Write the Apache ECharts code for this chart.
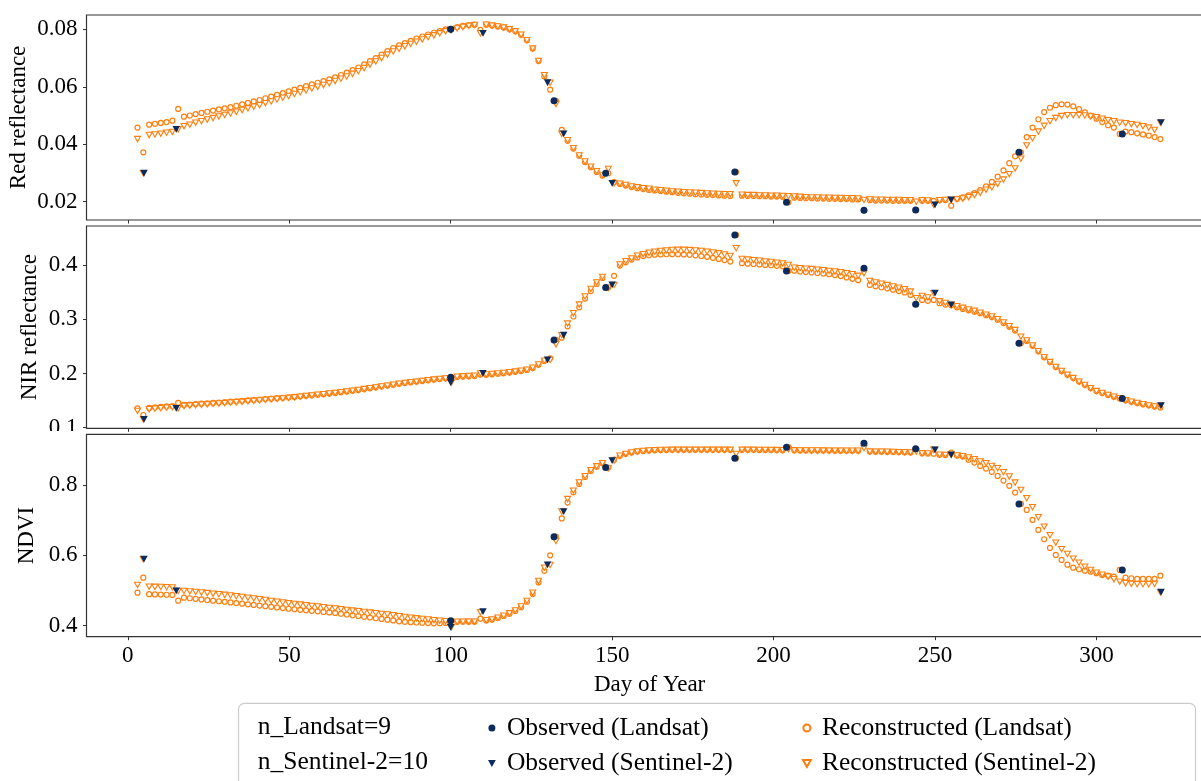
<!DOCTYPE html>
<html>
<head>
<meta charset="utf-8">
<title>Observed vs reconstructed reflectance</title>
<script src="https://cdn.jsdelivr.net/npm/echarts@6.0.0/dist/echarts.min.js"></script>
<style>
  html, body { margin: 0; padding: 0; background: #fff; }
  #chart { width: 1201px; height: 781px; }
</style>
</head>
<body>
<div id="chart"></div>
<script>
// observations
const obsLandsatDays = [100, 132, 148, 188, 204, 228, 244, 276, 308];
const obsLandsatRed = [0.0800, 0.0551, 0.0299, 0.0303, 0.0198, 0.0170, 0.0171, 0.0372, 0.0436];
const obsLandsatNir = [0.1930, 0.2618, 0.3583, 0.4555, 0.3890, 0.3940, 0.3277, 0.2557, 0.1540];
const obsLandsatNdvi = [0.4140, 0.6532, 0.8497, 0.8762, 0.9075, 0.9190, 0.9027, 0.7462, 0.5585];

const obsSentinelDays = [5, 15, 100, 110, 130, 135, 150, 250, 255, 320];
const obsSentinelRed = [0.0299, 0.0452, 0.0797, 0.0786, 0.0614, 0.0436, 0.0264, 0.0189, 0.0206, 0.0475];
const obsSentinelNir = [0.1155, 0.1358, 0.1830, 0.2000, 0.2249, 0.2705, 0.3633, 0.3480, 0.3264, 0.1406];
const obsSentinelNdvi = [0.5890, 0.4987, 0.3954, 0.4398, 0.5727, 0.7245, 0.8695, 0.9000, 0.8856, 0.4950];

// reconstruction dates
const reconDays = [
  3, 4.8, 6.6, 8.4, 10.2, 12, 13.8, 15.6, 17.4, 19.2,
  21, 22.8, 24.6, 26.4, 28.2, 30, 31.8, 33.6, 35.4, 37.2,
  39, 40.8, 42.6, 44.4, 46.2, 48, 49.8, 51.6, 53.4, 55.2,
  57, 58.8, 60.6, 62.4, 64.2, 66, 67.8, 69.6, 71.4, 73.2,
  75, 76.8, 78.6, 80.4, 82.2, 84, 85.8, 87.6, 89.4, 91.2,
  93, 94.8, 96.6, 98.4, 100.2, 102, 103.8, 105.6, 107.4, 109.2,
  111, 112.8, 114.6, 116.4, 118.2, 120, 121.8, 123.6, 125.4, 127.2,
  129, 130.8, 132.6, 134.4, 136.2, 138, 139.8, 141.6, 143.4, 145.2,
  147, 148.8, 150.6, 152.4, 154.2, 156, 157.8, 159.6, 161.4, 163.2,
  165, 166.8, 168.6, 170.4, 172.2, 174, 175.8, 177.6, 179.4, 181.2,
  183, 184.8, 186.6, 188.4, 190.2, 192, 193.8, 195.6, 197.4, 199.2,
  201, 202.8, 204.6, 206.4, 208.2, 210, 211.8, 213.6, 215.4, 217.2,
  219, 220.8, 222.6, 224.4, 226.2, 228, 229.8, 231.6, 233.4, 235.2,
  237, 238.8, 240.6, 242.4, 244.2, 246, 247.8, 249.6, 251.4, 253.2,
  255, 256.8, 258.6, 260.4, 262.2, 264, 265.8, 267.6, 269.4, 271.2,
  273, 274.8, 276.6, 278.4, 280.2, 282, 283.8, 285.6, 287.4, 289.2,
  291, 292.8, 294.6, 296.4, 298.2, 300, 301.8, 303.6, 305.4, 307.2,
  309, 310.8, 312.6, 314.4, 316.2, 318, 319.8
];

const reconLandsatRed = [
  0.0458, 0.0372, 0.0468, 0.0471, 0.0474, 0.0477, 0.0482, 0.0523, 0.0496, 0.0500,
  0.0505, 0.0509, 0.0513, 0.0517, 0.0521, 0.0525, 0.0529, 0.0534, 0.0539, 0.0544,
  0.0549, 0.0554, 0.0560, 0.0566, 0.0572, 0.0578, 0.0584, 0.0590, 0.0596, 0.0602,
  0.0608, 0.0614, 0.0620, 0.0626, 0.0633, 0.0641, 0.0649, 0.0658, 0.0667, 0.0678,
  0.0689, 0.0700, 0.0712, 0.0724, 0.0735, 0.0744, 0.0752, 0.0760, 0.0768, 0.0775,
  0.0782, 0.0788, 0.0794, 0.0800, 0.0802, 0.0808, 0.0812, 0.0815, 0.0816, 0.0798,
  0.0816, 0.0813, 0.0810, 0.0806, 0.0800, 0.0793, 0.0781, 0.0762, 0.0733, 0.0690,
  0.0636, 0.0590, 0.0551, 0.0450, 0.0412, 0.0385, 0.0360, 0.0338, 0.0320, 0.0303,
  0.0291, 0.0299, 0.0268, 0.0262, 0.0256, 0.0251, 0.0247, 0.0244, 0.0241, 0.0239,
  0.0237, 0.0235, 0.0233, 0.0231, 0.0229, 0.0228, 0.0226, 0.0225, 0.0224, 0.0223,
  0.0222, 0.0221, 0.0220, 0.0303, 0.0221, 0.0220, 0.0220, 0.0219, 0.0219, 0.0218,
  0.0218, 0.0217, 0.0198, 0.0214, 0.0213, 0.0212, 0.0212, 0.0211, 0.0211, 0.0210,
  0.0210, 0.0209, 0.0209, 0.0208, 0.0208, 0.0170, 0.0205, 0.0204, 0.0204, 0.0204,
  0.0203, 0.0203, 0.0203, 0.0203, 0.0171, 0.0203, 0.0203, 0.0203, 0.0205, 0.0206,
  0.0186, 0.0210, 0.0215, 0.0222, 0.0230, 0.0240, 0.0253, 0.0269, 0.0287, 0.0309,
  0.0334, 0.0358, 0.0372, 0.0425, 0.0458, 0.0487, 0.0512, 0.0527, 0.0536, 0.0539,
  0.0538, 0.0532, 0.0522, 0.0511, 0.0500, 0.0489, 0.0477, 0.0466, 0.0458, 0.0436,
  0.0444, 0.0442, 0.0438, 0.0434, 0.0430, 0.0425, 0.0418
];
const reconSentinelRed = [
  0.0418, 0.0299, 0.0432, 0.0434, 0.0437, 0.0440, 0.0443, 0.0452, 0.0463, 0.0468,
  0.0475, 0.0480, 0.0486, 0.0491, 0.0497, 0.0502, 0.0507, 0.0513, 0.0519, 0.0525,
  0.0531, 0.0536, 0.0543, 0.0549, 0.0556, 0.0562, 0.0568, 0.0575, 0.0581, 0.0587,
  0.0594, 0.0600, 0.0606, 0.0612, 0.0620, 0.0628, 0.0636, 0.0645, 0.0654, 0.0665,
  0.0677, 0.0688, 0.0700, 0.0712, 0.0723, 0.0732, 0.0741, 0.0749, 0.0757, 0.0765,
  0.0773, 0.0779, 0.0786, 0.0793, 0.0797, 0.0803, 0.0808, 0.0812, 0.0815, 0.0786,
  0.0816, 0.0813, 0.0810, 0.0806, 0.0800, 0.0793, 0.0781, 0.0762, 0.0733, 0.0690,
  0.0640, 0.0614, 0.0540, 0.0436, 0.0414, 0.0386, 0.0361, 0.0340, 0.0322, 0.0306,
  0.0293, 0.0314, 0.0264, 0.0263, 0.0258, 0.0253, 0.0250, 0.0247, 0.0245, 0.0242,
  0.0240, 0.0238, 0.0236, 0.0235, 0.0233, 0.0232, 0.0231, 0.0230, 0.0229, 0.0228,
  0.0227, 0.0226, 0.0226, 0.0264, 0.0224, 0.0223, 0.0223, 0.0222, 0.0222, 0.0221,
  0.0221, 0.0220, 0.0219, 0.0218, 0.0217, 0.0216, 0.0215, 0.0215, 0.0214, 0.0214,
  0.0213, 0.0213, 0.0212, 0.0212, 0.0211, 0.0206, 0.0208, 0.0207, 0.0207, 0.0206,
  0.0206, 0.0206, 0.0205, 0.0205, 0.0200, 0.0205, 0.0204, 0.0189, 0.0205, 0.0206,
  0.0206, 0.0208, 0.0211, 0.0216, 0.0223, 0.0231, 0.0242, 0.0250, 0.0262, 0.0277,
  0.0296, 0.0316, 0.0350, 0.0396, 0.0421, 0.0444, 0.0464, 0.0480, 0.0491, 0.0498,
  0.0501, 0.0501, 0.0501, 0.0500, 0.0497, 0.0494, 0.0489, 0.0484, 0.0480, 0.0475,
  0.0473, 0.0470, 0.0467, 0.0463, 0.0458, 0.0450, 0.0475
];

const reconLandsatNir = [
  0.1358, 0.1234, 0.1365, 0.1375, 0.1385, 0.1395, 0.1400, 0.1456, 0.1420, 0.1428,
  0.1436, 0.1443, 0.1450, 0.1457, 0.1465, 0.1472, 0.1480, 0.1488, 0.1496, 0.1504,
  0.1512, 0.1520, 0.1528, 0.1536, 0.1544, 0.1552, 0.1560, 0.1568, 0.1578, 0.1588,
  0.1598, 0.1608, 0.1618, 0.1630, 0.1642, 0.1655, 0.1668, 0.1682, 0.1696, 0.1712,
  0.1728, 0.1744, 0.1760, 0.1776, 0.1792, 0.1810, 0.1825, 0.1838, 0.1850, 0.1862,
  0.1875, 0.1887, 0.1898, 0.1910, 0.1930, 0.1935, 0.1942, 0.1948, 0.1954, 0.1980,
  0.1975, 0.1985, 0.1995, 0.2005, 0.2017, 0.2030, 0.2045, 0.2065, 0.2100, 0.2160,
  0.2230, 0.2280, 0.2618, 0.2660, 0.2870, 0.3050, 0.3220, 0.3380, 0.3520, 0.3650,
  0.3760, 0.3583, 0.3800, 0.3990, 0.4050, 0.4100, 0.4140, 0.4165, 0.4180, 0.4190,
  0.4195, 0.4198, 0.4200, 0.4198, 0.4195, 0.4188, 0.4178, 0.4165, 0.4150, 0.4133,
  0.4112, 0.4090, 0.4063, 0.4555, 0.4033, 0.4025, 0.4018, 0.4010, 0.4002, 0.3995,
  0.3985, 0.3975, 0.3890, 0.3895, 0.3880, 0.3870, 0.3862, 0.3852, 0.3842, 0.3830,
  0.3815, 0.3795, 0.3770, 0.3745, 0.3720, 0.3940, 0.3633, 0.3610, 0.3590, 0.3570,
  0.3545, 0.3520, 0.3495, 0.3448, 0.3277, 0.3356, 0.3340, 0.3356, 0.3295, 0.3270,
  0.3260, 0.3220, 0.3190, 0.3165, 0.3140, 0.3110, 0.3075, 0.3040, 0.2990, 0.2930,
  0.2860, 0.2790, 0.2557, 0.2600, 0.2510, 0.2410, 0.2300, 0.2210, 0.2120, 0.2045,
  0.1975, 0.1915, 0.1850, 0.1790, 0.1730, 0.1675, 0.1640, 0.1605, 0.1570, 0.1540,
  0.1505, 0.1478, 0.1455, 0.1432, 0.1412, 0.1390, 0.1372
];
const reconSentinelNir = [
  0.1310, 0.1155, 0.1340, 0.1350, 0.1360, 0.1370, 0.1377, 0.1358, 0.1400, 0.1408,
  0.1416, 0.1423, 0.1431, 0.1438, 0.1446, 0.1453, 0.1461, 0.1469, 0.1477, 0.1486,
  0.1494, 0.1503, 0.1512, 0.1521, 0.1530, 0.1540, 0.1550, 0.1560, 0.1572, 0.1584,
  0.1596, 0.1608, 0.1618, 0.1630, 0.1642, 0.1655, 0.1668, 0.1682, 0.1696, 0.1712,
  0.1728, 0.1744, 0.1760, 0.1776, 0.1792, 0.1810, 0.1825, 0.1838, 0.1850, 0.1862,
  0.1875, 0.1887, 0.1898, 0.1910, 0.1830, 0.1940, 0.1947, 0.1953, 0.1959, 0.2000,
  0.1980, 0.1990, 0.2000, 0.2010, 0.2022, 0.2035, 0.2050, 0.2070, 0.2105, 0.2165,
  0.2235, 0.2249, 0.2538, 0.2705, 0.2920, 0.3110, 0.3270, 0.3420, 0.3560, 0.3680,
  0.3780, 0.3580, 0.3633, 0.4010, 0.4070, 0.4120, 0.4170, 0.4200, 0.4225, 0.4245,
  0.4260, 0.4270, 0.4278, 0.4280, 0.4280, 0.4275, 0.4268, 0.4258, 0.4245, 0.4230,
  0.4215, 0.4195, 0.4168, 0.4310, 0.4112, 0.4100, 0.4090, 0.4078, 0.4065, 0.4055,
  0.4042, 0.4030, 0.4000, 0.3950, 0.3940, 0.3932, 0.3925, 0.3915, 0.3905, 0.3892,
  0.3880, 0.3868, 0.3850, 0.3830, 0.3800, 0.3850, 0.3707, 0.3680, 0.3655, 0.3630,
  0.3605, 0.3580, 0.3555, 0.3510, 0.3387, 0.3430, 0.3400, 0.3480, 0.3330, 0.3300,
  0.3264, 0.3240, 0.3210, 0.3180, 0.3155, 0.3120, 0.3085, 0.3050, 0.3000, 0.2940,
  0.2870, 0.2800, 0.2679, 0.2610, 0.2515, 0.2410, 0.2300, 0.2210, 0.2120, 0.2045,
  0.1975, 0.1915, 0.1850, 0.1790, 0.1730, 0.1675, 0.1640, 0.1605, 0.1570, 0.1545,
  0.1505, 0.1478, 0.1455, 0.1432, 0.1412, 0.1390, 0.1406
];

const reconLandsatNdvi = [
  0.4940, 0.5366, 0.4895, 0.4890, 0.4885, 0.4880, 0.4875, 0.4712, 0.4797, 0.4780,
  0.4763, 0.4746, 0.4729, 0.4712, 0.4695, 0.4678, 0.4661, 0.4643, 0.4625, 0.4608,
  0.4590, 0.4572, 0.4554, 0.4536, 0.4518, 0.4500, 0.4482, 0.4467, 0.4452, 0.4437,
  0.4422, 0.4407, 0.4392, 0.4377, 0.4362, 0.4340, 0.4318, 0.4296, 0.4275, 0.4254,
  0.4233, 0.4212, 0.4192, 0.4172, 0.4150, 0.4125, 0.4110, 0.4100, 0.4090, 0.4082,
  0.4075, 0.4068, 0.4070, 0.4080, 0.4140, 0.4110, 0.4112, 0.4114, 0.4114, 0.4200,
  0.4150, 0.4175, 0.4220, 0.4275, 0.4340, 0.4420, 0.4525, 0.4680, 0.4900, 0.5230,
  0.5560, 0.6000, 0.6532, 0.7050, 0.7500, 0.7790, 0.8030, 0.8230, 0.8400, 0.8520,
  0.8620, 0.8497, 0.8720, 0.8828, 0.8885, 0.8923, 0.8950, 0.8968, 0.8979, 0.8988,
  0.8994, 0.8998, 0.9000, 0.9000, 0.9000, 0.9000, 0.9000, 0.9000, 0.9000, 0.9000,
  0.9000, 0.9000, 0.9000, 0.8762, 0.9000, 0.9000, 0.9000, 0.8998, 0.8997, 0.8995,
  0.8993, 0.8990, 0.9075, 0.8985, 0.8983, 0.8982, 0.8980, 0.8979, 0.8978, 0.8977,
  0.8976, 0.8975, 0.8974, 0.8973, 0.8972, 0.9190, 0.8950, 0.8948, 0.8946, 0.8944,
  0.8940, 0.8935, 0.8930, 0.8925, 0.9027, 0.8900, 0.8895, 0.8890, 0.8860, 0.8856,
  0.8920, 0.8837, 0.8810, 0.8714, 0.8638, 0.8543, 0.8467, 0.8373, 0.8259, 0.8126,
  0.7975, 0.7784, 0.7462, 0.7292, 0.7007, 0.6723, 0.6458, 0.6210, 0.6011, 0.5869,
  0.5735, 0.5650, 0.5604, 0.5565, 0.5537, 0.5491, 0.5443, 0.5423, 0.5394, 0.5585,
  0.5366, 0.5348, 0.5329, 0.5329, 0.5329, 0.5329, 0.5423
];
const reconSentinelNdvi = [
  0.5158, 0.5890, 0.5110, 0.5105, 0.5100, 0.5095, 0.5090, 0.4987, 0.4987, 0.4975,
  0.4959, 0.4943, 0.4927, 0.4911, 0.4894, 0.4877, 0.4860, 0.4839, 0.4817, 0.4796,
  0.4774, 0.4752, 0.4729, 0.4706, 0.4683, 0.4660, 0.4637, 0.4619, 0.4600, 0.4582,
  0.4564, 0.4545, 0.4526, 0.4507, 0.4490, 0.4470, 0.4450, 0.4430, 0.4411, 0.4392,
  0.4373, 0.4354, 0.4336, 0.4318, 0.4298, 0.4270, 0.4250, 0.4230, 0.4210, 0.4192,
  0.4175, 0.4158, 0.4140, 0.4125, 0.3954, 0.4112, 0.4114, 0.4116, 0.4116, 0.4380,
  0.4155, 0.4180, 0.4228, 0.4285, 0.4352, 0.4435, 0.4545, 0.4705, 0.4935, 0.5270,
  0.5650, 0.5727, 0.6410, 0.7245, 0.7600, 0.7840, 0.8070, 0.8250, 0.8420, 0.8530,
  0.8620, 0.8470, 0.8695, 0.8830, 0.8885, 0.8923, 0.8950, 0.8968, 0.8979, 0.8988,
  0.8994, 0.8998, 0.9000, 0.9000, 0.9000, 0.9000, 0.9000, 0.9000, 0.9000, 0.9000,
  0.9000, 0.9000, 0.9000, 0.8885, 0.9000, 0.9000, 0.9000, 0.8998, 0.8997, 0.8995,
  0.8993, 0.8990, 0.9020, 0.8985, 0.8983, 0.8982, 0.8980, 0.8979, 0.8978, 0.8977,
  0.8976, 0.8975, 0.8974, 0.8973, 0.8972, 0.9047, 0.8950, 0.8948, 0.8946, 0.8944,
  0.8940, 0.8935, 0.8930, 0.8925, 0.8950, 0.8900, 0.8895, 0.9000, 0.8860, 0.8856,
  0.8856, 0.8840, 0.8820, 0.8780, 0.8734, 0.8667, 0.8620, 0.8543, 0.8478, 0.8364,
  0.8240, 0.8069, 0.7860, 0.7624, 0.7368, 0.7084, 0.6817, 0.6572, 0.6361, 0.6174,
  0.6040, 0.5906, 0.5792, 0.5679, 0.5585, 0.5508, 0.5451, 0.5394, 0.5320, 0.5252,
  0.5206, 0.5186, 0.5180, 0.5180, 0.5180, 0.5190, 0.4950
];

// axis ticks
const dayTicks = [0, 50, 100, 150, 200, 250, 300];
const redTicks = [0.02, 0.04, 0.06, 0.08];
const nirTicks = [0.1, 0.2, 0.3, 0.4];
const ndviTicks = [0.4, 0.6, 0.8];

const orange = "#ff7f0e";
const navy = "#0a2b5c";
const serif = '"Liberation Serif", "DejaVu Serif", serif';
const downTriangle = "path://M0,0L2,0L1,1.8Z";

const pairs = (xs, ys) => xs.map((x, i) => [x, ys[i]]);

const panels = [
  { label: "Red reflectance", recL: reconLandsatRed, recS: reconSentinelRed, obsL: obsLandsatRed, obsS: obsSentinelRed,
    ticks: redTicks, min: 0.01363, max: 0.08498, top: 15, height: 205, nameGap: 56 },
  { label: "NIR reflectance", recL: reconLandsatNir, recS: reconSentinelNir, obsL: obsLandsatNir, obsS: obsSentinelNir,
    ticks: nirTicks, min: 0.0989, max: 0.4719, top: 226, height: 202.3, nameGap: 45.5 },
  { label: "NDVI", recL: reconLandsatNdvi, recS: reconSentinelNdvi, obsL: obsLandsatNdvi, obsS: obsSentinelNdvi,
    ticks: ndviTicks, min: 0.3687, max: 0.9441, top: 434.3, height: 202.4, nameGap: 48 }
];

const series = [];
panels.forEach((p, k) => {
  series.push({
    name: "Reconstructed (Landsat)", type: "scatter", xAxisIndex: k, yAxisIndex: k, z: 2,
    symbol: "circle", symbolSize: 5,
    itemStyle: { color: "#fff", borderColor: orange, borderWidth: 1.2, opacity: 1 },
    data: pairs(reconDays, p.recL)
  });
  series.push({
    name: "Reconstructed (Sentinel-2)", type: "scatter", xAxisIndex: k, yAxisIndex: k, z: 2,
    symbol: downTriangle, symbolSize: [6, 5.4],
    itemStyle: { color: "#fff", borderColor: orange, borderWidth: 1.1, opacity: 1 },
    data: pairs(reconDays, p.recS)
  });
  series.push({
    name: "Observed (Sentinel-2)", type: "scatter", xAxisIndex: k, yAxisIndex: k, z: 3,
    symbol: downTriangle, symbolSize: [7.5, 6.8],
    itemStyle: { color: navy, opacity: 1 },
    data: pairs(obsSentinelDays, p.obsS)
  });
  series.push({
    name: "Observed (Landsat)", type: "scatter", xAxisIndex: k, yAxisIndex: k, z: 4,
    symbol: "circle", symbolSize: 7,
    itemStyle: { color: navy, opacity: 1 },
    data: pairs(obsLandsatDays, p.obsL)
  });
});

const legendText = { fontFamily: serif, fontSize: 25.5, color: "#000" };

const option = {
  animation: false,
  backgroundColor: "#fff",
  textStyle: { fontFamily: serif },
  grid: panels.map(p => ({
    left: 86.5, width: 1126.2, top: p.top, height: p.height, outerBoundsMode: "none",
    show: true, borderColor: "#333", borderWidth: 1.2, backgroundColor: "transparent"
  })),
  xAxis: panels.map((p, k) => ({
    type: "value", gridIndex: k, min: -12.8, max: 336,
    axisLine: { show: false, onZero: false },
    axisTick: { show: true, length: 3.5, customValues: dayTicks, lineStyle: { color: "#333" } },
    axisLabel: { show: k === 2, customValues: dayTicks, fontFamily: serif, fontSize: 23, color: "#000", margin: 8 },
    splitLine: { show: false },
    name: k === 2 ? "Day of Year" : "",
    nameLocation: "middle", nameGap: 37, nameMoveOverlap: false,
    nameTextStyle: { fontFamily: serif, fontSize: 23, color: "#000" }
  })),
  yAxis: panels.map((p, k) => ({
    type: "value", gridIndex: k, min: p.min, max: p.max,
    axisLine: { show: false, onZero: false },
    axisTick: { show: true, length: 3.5, customValues: p.ticks, lineStyle: { color: "#333" } },
    axisLabel: { customValues: p.ticks, fontFamily: serif, fontSize: 23, color: "#000", margin: 9 },
    splitLine: { show: false },
    name: p.label, nameLocation: "middle", nameGap: p.nameGap, nameMoveOverlap: false,
    nameTextStyle: { fontFamily: serif, fontSize: 23, color: "#000" }
  })),
  legend: [
    {
      data: ["Observed (Landsat)", "Observed (Sentinel-2)"],
      orient: "vertical", left: 488, top: 715, padding: 0, itemWidth: 20, itemHeight: 7, itemGap: 9.5,
      selectedMode: false, textStyle: legendText
    },
    {
      data: ["Reconstructed (Landsat)", "Reconstructed (Sentinel-2)"],
      orient: "vertical", left: 802, top: 715, padding: 0, itemWidth: 20, itemHeight: 7, itemGap: 9.5,
      selectedMode: false, textStyle: legendText
    }
  ],
  graphic: [
    {
      type: "rect", z: 1,
      shape: { x: 238.5, y: 703.3, width: 957, height: 100, r: 6 },
      style: { fill: "#fff", stroke: "#cccccc", lineWidth: 1.2 }
    },
    {
      type: "text", z: 5,
      style: { x: 257.7, y: 727.5, text: "n_Landsat=" + obsLandsatDays.length, fill: "#000",
        font: "25.5px " + serif, verticalAlign: "middle", textVerticalAlign: "middle" }
    },
    {
      type: "text", z: 5,
      style: { x: 257.7, y: 762.5, text: "n_Sentinel-2=" + obsSentinelDays.length, fill: "#000",
        font: "25.5px " + serif, verticalAlign: "middle", textVerticalAlign: "middle" }
    },
    {
      // the lowest NIR label is cut off by the NDVI panel in the source
      type: "rect", z: 10,
      shape: { x: 0, y: 431, width: 84, height: 14 },
      style: { fill: "#fff" }
    }
  ],
  series
};

const chart = echarts.init(document.getElementById("chart"));
chart.setOption(option);
</script>
</body>
</html>
